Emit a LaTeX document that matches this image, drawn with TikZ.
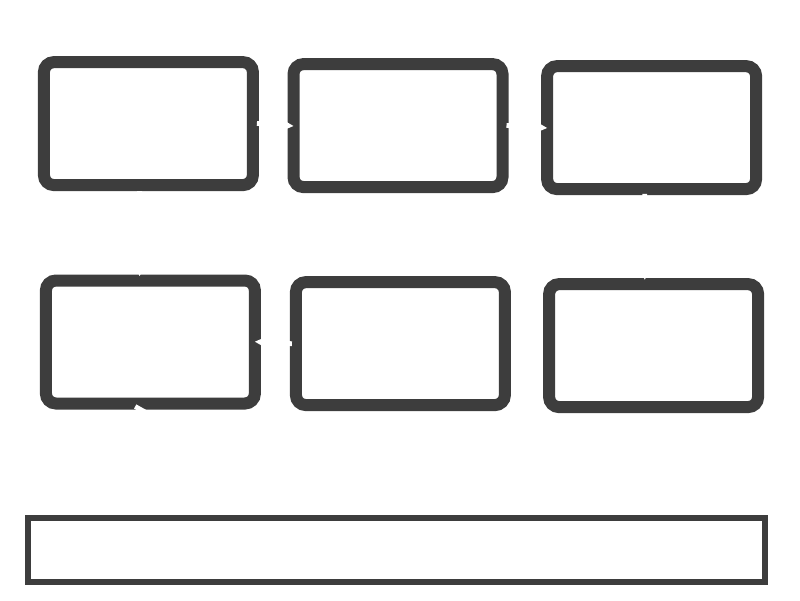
\documentclass[tikz,border=0pt]{standalone}
\usetikzlibrary{shapes.geometric, arrows}
\definecolor{boxgray}{HTML}{3D3D3D}
\tikzstyle{panel} = [rectangle, rounded corners=.25cm, minimum width=5.225cm, minimum height=3.075cm, line width=.3cm, draw=boxgray, fill=white]
\tikzstyle{bar} = [rectangle, minimum width=18.425cm, minimum height=1.6cm, line width=.15cm, draw=boxgray, fill=white]
\tikzstyle{arrow} = [white,line width=.12cm,->,>=stealth,shorten >=-.15cm,shorten <=-.05cm]
\begin{document}
\begin{tikzpicture}
\useasboundingbox (0,0) rectangle (20,-15);

% top row
\node[panel] (p1) at (3.71,-3.09) {};
\node[panel] (p2) at (9.95,-3.14) {};
\node[panel] (p3) at (16.29,-3.19) {};
% bottom row
\node[panel] (p4) at (3.76,-8.55) {};
\node[panel] (p5) at (10.01,-8.59) {};
\node[panel] (p6) at (16.34,-8.64) {};

\node[bar] (base) at (9.91,-13.75) {};

\draw[arrow] (p1.east)--(p2.west);
\draw[arrow] (p2.east)--(p3.west);
\draw[arrow,shorten >=-.04cm,shorten <=-.03cm] ([xshift=-.17cm]p3.south)--([xshift=-.22cm]p6.north);
\draw[arrow,shorten >=-.04cm,shorten <=0cm] ([xshift=-.22cm]p1.south)--([xshift=-.27cm]p4.north);
\draw[arrow] (p5.west)--(p4.east);
\draw[arrow,shorten >=1.2cm,shorten <=-.15cm] ([xshift=-.25cm]p4.south) to[out=-30,in=-100] (p6.west);
\end{tikzpicture}
\end{document}
